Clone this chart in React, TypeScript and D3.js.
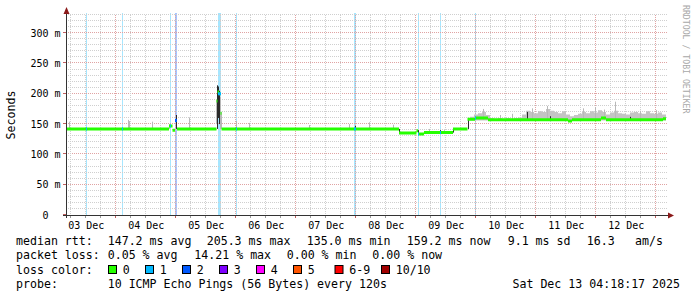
import React from "react";
import * as d3 from "d3";

// ---- data ----
const START = new Date(2025, 11, 3, 4, 18, 17);
const END = new Date(2025, 11, 13, 4, 18, 17);
const BUCKET_H = 0.4; // one consolidated step (24 min)

const yMajorTicks = [0, 50, 100, 150, 200, 250, 300];
const yMax = 330;

// median rtt, step breakpoints (hours since start, ms)
const medianHours = [0, 41.2, 42.6, 43.6, 44.4, 60.2, 60.6, 61.2, 61.8, 62.2, 133.2, 140.2, 140.8, 143.2, 154.8, 160.6, 163.6, 168.8, 200.8, 202.4, 214, 216, 238.8, 240];
const medianMs = [142, 147, 140, 156, 142, 188, 203, 200, 168, 142, 135.5, 139, 133.5, 136, 142, 158, 160, 157, 155, 157, 160, 157, 159, 159];

// packet-loss events (hours since start, duration in hours, lost pings)
const lossHours = [8.0, 22.4, 41.6, 43.6, 60.6, 68.0, 115.2, 140.8, 149.6, 163.6];
const lossDur = [0.4, 0.4, 0.4, 0.8, 1.2, 0.4, 0.8, 0.4, 0.4, 0.4];
const lossCount = [1, 1, 1, 2, 1, 1, 1, 1, 1, 1];

// light smoke spikes
const spikeHours = [1.2, 24.8, 25.2, 34.4, 41.2, 49.2, 60.0, 61.6, 62.0, 68.0, 73.2, 97.2, 113.2, 121.2, 130.8, 145.2, 151.2, 166.8, 173.6, 178.4, 186.4, 192.4, 206.8, 211.6, 215.2, 219.6, 229.6, 236.0];
const spikeLow = [142, 142, 142, 142, 142, 142, 150, 142, 142, 142, 142, 142, 142, 142, 142, 136, 136, 157, 157, 157, 157, 157, 157, 157, 157, 157, 157, 157];
const spikeHigh = [154, 157, 155, 154, 150, 161, 190, 195, 170, 155, 152, 148.5, 150, 153, 149, 142, 140, 175, 165, 167, 176, 180, 176, 178, 174, 187, 172, 173];

// dark smoke spikes
const darkHours = [44.0, 60.4, 60.8, 61.2, 115.6, 133.2, 140.8, 149.6, 154.8, 160.8, 184.4, 193.6, 225.6];
const darkLow = [142, 142, 160, 150, 142, 135, 134, 136, 136, 142, 157, 157, 157];
const darkHigh = [165, 214, 212, 205, 147, 142, 140, 140, 142, 158, 170, 163, 162];

// dense smoke band in the last days (hours since start, top ms)
const bandHours = [161.6, 163.2, 164.8, 166.4, 168.0, 169.6, 171.2, 172.8, 174.4, 176.0, 177.6, 179.2, 180.8, 182.4, 184.0, 185.6, 187.2, 188.8, 190.4, 192.0, 193.6, 195.2, 196.8, 198.4, 200.0, 201.6, 203.2, 204.8, 206.4, 208.0, 209.6, 211.2, 212.8, 214.4, 216.0, 217.6, 219.2, 220.8, 222.4, 224.0, 225.6, 227.2, 228.8, 230.4, 232.0, 233.6, 235.2, 236.8, 238.4, 240.0];
const bandTop = [162, 166, 168, 170, 165, 160, 159, 160, 159, 160, 159, 160, 161, 166, 172, 170, 168, 171, 170, 175, 172, 170, 168, 171, 166, 163, 165, 167, 170, 168, 171, 169, 173, 170, 166, 169, 172, 168, 167, 166, 169, 170, 168, 167, 171, 168, 167, 169, 166, 166];
const bandBase = 156;

const lossLabels = ["0", "1", "2", "3", "4", "5", "6-9", "10/10"];
const lossColors = ["#26ff00", "#00b8ff", "#0059ff", "#7e00ff", "#ff00ff", "#ff5500", "#ff0000", "#a10000"];

const legendRtt = ["147.2 ms avg", "205.3 ms max", "135.0 ms min", "159.2 ms now", "9.1 ms sd", "16.3", "am/s"];
const legendLoss = ["0.05 % avg", "14.21 % max", "0.00 % min", "0.00 % now"];
const probeText = "10 ICMP Echo Pings (56 Bytes) every 120s";
const stampText = "Sat Dec 13 04:18:17 2025";

// ---- drawing ----
const W = 697;
const H = 297;
const X0 = 66;
const X1 = 666;
const YB = 215;
const YT = 15;
const FONT = "'DejaVu Sans Mono', monospace";

const hDate = (h: number) => new Date(START.getTime() + h * 3600e3);

export default function App() {
  const x = d3.scaleTime().domain([START, END]).range([X0, X1]);
  const y = d3.scaleLinear().domain([0, yMax]).range([YB, YT]);
  const xh = (h: number) => x(hDate(h));
  const px = (v: number) => Math.round(v) + 0.5;

  const gridTimes = d3.timeHour.every(6)!.range(START, END);
  const dayStarts = d3.timeDay.range(d3.timeDay.floor(START), END);
  const labelTimes = dayStarts.map((d) => d3.timeHour.offset(d, 12)).filter((d) => d > START && d < END);
  const fmt = d3.timeFormat("%d %b");
  const yGrid = d3.range(10, yMax + 1, 10);

  // median drawn as a thin stacked band (like SmokePing), no vertical joins
  const medArea = d3
    .area<number>()
    .curve(d3.curveStepAfter)
    .x((_, i) => xh(medianHours[i]))
    .y0((v) => y(v) + 1.5)
    .y1((v) => y(v) - 1.5)(medianMs) || "";

  const band = d3
    .area<number>()
    .curve(d3.curveStepAfter)
    .x((_, i) => xh(bandHours[i]))
    .y0(() => y(bandBase))
    .y1((v) => y(v))(bandTop) || "";

  const medianAt = (h: number) => {
    let v = medianMs[0];
    for (let i = 0; i < medianHours.length; i++) if (medianHours[i] <= h) v = medianMs[i];
    return v;
  };

  const rectFor = (h: number, dur: number) => {
    const a = Math.round(xh(h));
    const b = Math.max(a + 1, Math.round(xh(h + dur)));
    return { x: a, w: b - a };
  };

  const legendY = [245, 259.3, 273.5, 288];
  const rttX = [107.7, 206.7, 306.7, 406.7, 507.7, 586.7, 635];
  const lossX = [107.7, 194.3, 286.7, 372.3];
  const boxX = [108.5, 145.5, 182.5, 219.5, 256.5, 293.5, 335, 381.5];

  return (
    <svg
      width={W}
      height={H}
      viewBox={`0 0 ${W} ${H}`}
      style={{ position: "fixed", left: 0, top: 0, background: "#fff", display: "block" }}
      fontFamily={FONT}
    >
      <rect x={0} y={0} width={W} height={H} fill="#fff" />

      {/* loss background bars */}
      {lossHours.map((h, i) => {
        const r = rectFor(h, lossDur[i]);
        return <rect key={"lb" + i} x={r.x} y={YT - 2} width={r.w} height={YB - YT + 2} fill={lossColors[lossCount[i]]} opacity={0.35} />;
      })}

      {/* grid */}
      {yGrid.map((v) => (
        <line key={"hy" + v} x1={X0} x2={X1 + 2} y1={px(y(v)) - 1} y2={px(y(v)) - 1}
          stroke={v % 50 === 0 ? "#e0a3a3" : "#cfcfcf"} strokeDasharray="1,1" strokeWidth={1} />
      ))}
      {gridTimes.map((t, i) => {
        const major = t.getHours() === 0;
        return (
          <line key={"vx" + i} x1={px(x(t))} x2={px(x(t))} y1={YT} y2={YB}
            stroke={major ? "#e0a3a3" : "#cfcfcf"} strokeDasharray="1,1" strokeWidth={1} />
        );
      })}

      {/* smoke */}
      <path d={band} fill="#c4c4c4" />
      {spikeHours.map((h, i) => {
        const r = rectFor(h, BUCKET_H);
        return <rect key={"sp" + i} x={r.x} y={y(spikeHigh[i])} width={r.w} height={y(spikeLow[i]) - y(spikeHigh[i])} fill="#b8b8b8" />;
      })}
      {darkHours.map((h, i) => {
        const r = rectFor(h, BUCKET_H);
        return <rect key={"dk" + i} x={r.x} y={y(darkHigh[i])} width={r.w} height={y(darkLow[i]) - y(darkHigh[i])} fill="#2a2a2a" />;
      })}

      {/* median band */}
      <path d={medArea} fill={lossColors[0]} />
      {lossHours.map((h, i) => {
        const r = rectFor(h, lossDur[i]);
        const v = medianAt(h + lossDur[i] / 2);
        return <rect key={"ml" + i} x={r.x} y={y(v) - 1.5} width={r.w} height={3} fill={lossColors[lossCount[i]]} />;
      })}

      {/* axes */}
      <line x1={X0 - 3} x2={X1 + 3} y1={YB + 0.5} y2={YB + 0.5} stroke="#333" />
      <line x1={X0 + 0.5} x2={X0 + 0.5} y1={YT - 3} y2={YB + 3} stroke="#333" />
      {gridTimes.map((t, i) => (
        <line key={"tx" + i} x1={px(x(t))} x2={px(x(t))} y1={YB + 1} y2={YB + 3}
          stroke={t.getHours() === 0 ? "#c06060" : "#999"} />
      ))}
      {yMajorTicks.map((v) => (
        <line key={"ty" + v} x1={X0 - 3} x2={X0} y1={px(y(v)) - 1} y2={px(y(v)) - 1} stroke="#c06060" />
      ))}
      <path d={`M${X0 - 2.5},${YT - 1} L${X0 + 0.5},${YT - 8} L${X0 + 3.5},${YT - 1} Z`} fill="#8b1a1a" />
      <path d={`M${X1 + 2},${YB - 2.5} L${X1 + 8},${YB + 0.5} L${X1 + 2},${YB + 3.5} Z`} fill="#8b1a1a" />

      {/* y labels */}
      {yMajorTicks.map((v) => (
        <text key={"yl" + v} x={v === 0 ? 48.5 : 60.5} y={y(v) + 3.5} fontSize={10} textAnchor="end" fill="#000">
          {v === 0 ? "0" : `${v} m`}
        </text>
      ))}
      {/* x labels */}
      {labelTimes.map((t, i) => (
        <text key={"xl" + i} x={x(t) + 1} y={229} fontSize={10} textAnchor="middle" fill="#000">
          {fmt(t)}
        </text>
      ))}

      {/* axis title */}
      <text transform={`translate(15,${(YT + YB) / 2}) rotate(-90)`} fontSize={11.6} textAnchor="middle" fill="#000">
        Seconds
      </text>

      {/* watermark */}
      <text transform="translate(683,5) rotate(90)" fontSize={8.2} fill="#a8a8a8">
        RRDTOOL / TOBI OETIKER
      </text>

      {/* legend */}
      <g fontSize={11.6} fill="#000">
        <text x={16} y={legendY[0]}>median rtt:</text>
        {legendRtt.map((s, i) => (
          <text key={"r" + i} x={rttX[i]} y={legendY[0]}>{s}</text>
        ))}
        <text x={16} y={legendY[1]}>packet loss:</text>
        {legendLoss.map((s, i) => (
          <text key={"l" + i} x={lossX[i]} y={legendY[1]}>{s}</text>
        ))}
        <text x={16} y={legendY[2]}>loss color:</text>
        {lossLabels.map((s, i) => (
          <g key={"c" + i}>
            <rect x={boxX[i]} y={265.5} width={8} height={8} fill={lossColors[i]} stroke="#000" strokeWidth={1} />
            <text x={boxX[i] + 14.2} y={legendY[2]}>{s}</text>
          </g>
        ))}
        <text x={16} y={legendY[3]}>probe:</text>
        <text x={107.7} y={legendY[3]}>{probeText}</text>
        <text x={680} y={legendY[3]} textAnchor="end">{stampText}</text>
      </g>
    </svg>
  );
}
